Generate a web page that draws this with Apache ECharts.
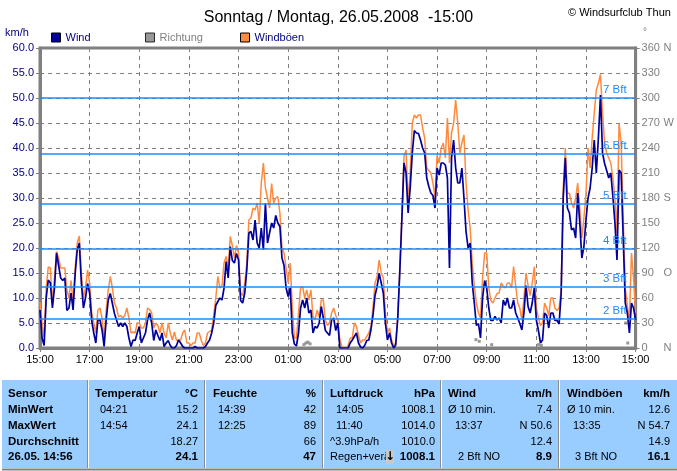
<!DOCTYPE html>
<html><head><meta charset="utf-8">
<script src="https://cdn.jsdelivr.net/npm/echarts@6/dist/echarts.min.js"></script>
<style>html,body{margin:0;padding:0;background:#fff}#c{width:677px;height:471px}</style>
</head><body><div id="c"></div>
<script>
// ---------------- DATA ----------------
const chartTitle = 'Sonntag / Montag, 26.05.2008  -15:00';
const copyright = '\u00a9 Windsurfclub Thun';
const startHour = 15;          // axis starts 15:00
const stepMinutes = 5;         // sample spacing
// wind (km/h), 5-minute samples from 15:00 to 15:00 next day
const wind = [
 7.6,2,0.5,10,13.6,13,8,12,19,16.5,14,13.5,
 14,7.5,8,11,7.6,14.8,19.6,21,13,8,10,12.9,
 11,5.5,3,1,5.6,5.6,3.6,0.3,5.6,9.6,10.9,8.9,
 6.9,5.6,4.3,5,4.3,5,4.3,2,0.3,1.6,1.5,3,
 4.3,1,2,3,5.6,7,5,1.5,3.6,2.5,1.5,3,
 0.3,1,1.5,0.5,0,0,0.5,1.6,1,0.3,0,0,
 0,0,0,0.3,0,0,0,0,0.3,1,1.6,3,
 5,8.5,9.3,10,9.6,12,17.3,14,20.3,17.5,17,18.9,
 17.6,9.5,9,11,15.6,23,23.3,21.6,25.6,21,20,24,
 19.6,29,21,23,25,24,26.5,25,24.3,18,16.5,12,
 10.3,12,3,0.8,0.4,3,8,9.6,8,10,7,7.6,
 3,4.3,4,5,8.3,6,3.5,3,2.5,5.6,6,3.5,
 5,0,0,0,0,0,1,1.6,2.3,3,1,0.2,
 0,0.5,1.5,1.6,3.6,6.5,10.5,12.3,14.9,13,11,5,
 1.6,3,1,0,0.6,6,15.6,26,37,35,27,32,
 38.9,43.5,43,42.9,41.6,40,39,34,32.3,31,30.5,28,
 36,34.6,37,37,36.6,34,16,38,41.6,36,33,33,
 36,30,23.3,20,21,13,9,4.5,4.9,2,10,13.5,
 12,8,5.5,5.5,6.3,5.6,6,5,9.6,8.5,10,8,
 8,9.6,7,6,4.9,3.6,7,12.5,8.3,7,9,12,
 5.6,3.5,1,1.6,7,6.5,4,7,7,5.5,5.5,4.8,
 10.9,30,38,28,27,23.6,24,22,31,25,18,20.3,
 25.6,30,32,36,41.6,35,42,50.6,39,36.9,35.5,34,
 35,30.3,25,17.6,35.6,35,22,9,7,3,9,8,5.6
];
// gusts (km/h), same sampling
const gust = [
 9.2,5,2,12,16.2,16,9,14,19.3,18,16,16,
 16,11.6,10,13.5,9,16,21,22.4,15,10,12,15.6,
 13,7,5,3,7.6,8,6,2,7.6,11.6,14.3,12,
 9,8,6.2,6.5,6,6.5,8,6,3,3.2,3,5,
 5,4,4,5,8,7.7,7,4,5,4.5,3,5,
 3,2,5,3,1.6,3.2,1.5,1.6,1.6,3,3.6,1,
 1,0.5,1,1,3,3,1.5,0.5,1,3,3.3,3.5,
 6.6,10,14.3,12,12.5,17,18.3,16,22.3,20.5,18,20.5,
 19,11,10.5,13,17,25.6,26,28,27.6,29,25,33,
 37,32,30,28,32.9,29,30,30.3,27,20,19,16,
 13,17,8,2,2,7,12,12.3,10,11.6,9.6,11.6,
 6.3,5.6,7.6,6.2,9.6,9.6,5.5,4.5,5,7,8,6.5,
 5.5,1.6,0.3,0,0,0.5,2,2,5,4.3,2.5,1,
 1.6,1.6,2.3,3,4.3,8,13,14.3,17.6,15,14,7,
 3,4,1.6,0.5,1,6.5,16,27,38.3,39.6,29,35,
 44.9,46.6,46,46.6,46.6,44,42,36,35.5,35,33,30,
 38.6,37,40,41,38,46,37,43,45,49.6,45,39,
 41,42.6,33,27.6,24,17,12.5,9,7,6,14,19,
 19,12,9.5,9,10,10.9,11,13,12.3,12,13,13,
 12,16.3,12.5,9,8,5.5,10,15,12.5,10.5,13,16.3,
 8,6,4.5,5,9,8,6.5,10,10,8,7.5,8,
 11.6,32,40,31,30.9,29,28,30,33,28,22,26,
 30.9,40,36,42,47,51.6,53,54.7,47,41,39,38,
 37,34,30,23,44.9,41,26,12,8.5,5.6,19,14,7
];
// direction samples that are visible (minutes after 15:00, degrees)
const dirMinutes = [638, 643, 648, 653, 1054, 1062, 1092, 1205, 1212, 1416, 1421];
const dirDegrees = [4, 6, 7, 5, 10, 8, 4, 4, 3, 30, 6];
// Beaufort thresholds (km/h)
const bftLevels = [5.8, 12.2, 19.8, 28.8, 38.8, 50];
const bftNames  = ['2 Bft', '3 Bft', '4 Bft', '5 Bft', '6 Bft', '7 Bft'];
const compass = {360: 'N', 270: 'W', 180: 'S', 90: 'O', 0: 'N'};
// info table
const sensorLabels = ['Sensor', 'MinWert', 'MaxWert', 'Durchschnitt', '26.05. 14:56'];
const tableHeads = ['Temperatur', 'Feuchte', 'Luftdruck', 'Wind', 'Windb\u00f6en'];
const tableUnits = ['\u00b0C', '%', 'hPa', 'km/h', 'km/h'];
const tableTimes = [
  ['04:21', '14:54', '', ''],
  ['14:39', '12:25', '', ''],
  ['14:05', '11:40', '^3.9hPa/h', 'Regen+ver\u00e4'],
  ['\u00d8 10 min.', '13:37', '', '2 Bft NO'],
  ['\u00d8 10 min.', '13:35', '', '3 Bft NO']
];
const tableValues = [
  ['15.2', '24.1', '18.27', '24.1'],
  ['42', '89', '66', '47'],
  ['1008.1', '1014.0', '1010.0', '1008.1'],
  ['7.4', 'N 50.6', '12.4', '8.9'],
  ['12.6', 'N 54.7', '14.9', '16.1']
];

// ---------------- CHART ----------------
const FONT = 'Liberation Sans, Arial, sans-serif';
const NAVY = '#00009c', ORANGE = '#ff8a3d', GREY = '#808080', BFT = '#1a8cff';
const chart = echarts.init(document.getElementById('c'), null, {renderer: 'canvas'});

const windData = wind.map((v, i) => [i * stepMinutes, v]);
const gustData = gust.map((v, i) => [i * stepMinutes, v]);
const dirData = dirMinutes.map((m, k) => [m, dirDegrees[k]]);

function hhmm(v) {
  const h = (startHour + Math.round(v / 60)) % 24;
  return (h < 10 ? '0' : '') + h + ':00';
}

// graphic: header texts + info panel
const g = [];
g.push({type: 'text', x: 568, y: 13, style: {text: copyright, font: '11px ' + FONT, fill: '#000', verticalAlign: 'middle'}});
g.push({type: 'text', x: 5, y: 33, style: {text: 'km/h', font: '11px ' + FONT, fill: '#000080', verticalAlign: 'middle'}});
g.push({type: 'text', x: 643, y: 32, style: {text: '\u00b0', font: '10px ' + FONT, fill: GREY, verticalAlign: 'middle'}});

const panelTop = 380, panelBottom = 468;
g.push({type: 'rect', shape: {x: 2, y: panelTop, width: 675, height: panelBottom - panelTop}, style: {fill: '#99ccff'}});
g.push({type: 'line', shape: {x1: 2, y1: 469.5, x2: 677, y2: 469.5}, style: {stroke: GREY, lineWidth: 2}});
const sepX = [87, 204, 322, 440, 558];
sepX.forEach(x => {
  g.push({type: 'line', shape: {x1: x + 0.5, y1: panelTop, x2: x + 0.5, y2: panelBottom}, style: {stroke: '#8c8c8c', lineWidth: 1}});
  g.push({type: 'line', shape: {x1: x + 1.5, y1: panelTop, x2: x + 1.5, y2: panelBottom}, style: {stroke: '#ffffff', lineWidth: 1}});
});
const rowY = [394, 410, 426, 442, 457];
const boldF = 'bold 11.5px ' + FONT, normF = '11px ' + FONT;
sensorLabels.forEach((t, r) => g.push({type: 'text', x: 8, y: rowY[r], style: {text: t, font: boldF, fill: '#000', verticalAlign: 'middle'}}));
const headX = [95, 213, 330, 448, 567];
const unitX = [198, 316, 435, 552, 670];
const subX = [[100, 100, 100, 100], [218, 218, 218, 218], [336, 336, 330, 330], [448, 455, 455, 458], [567, 573, 573, 575]];
tableHeads.forEach((h, c) => {
  g.push({type: 'text', x: headX[c], y: rowY[0], style: {text: h, font: boldF, fill: '#000', verticalAlign: 'middle'}});
  g.push({type: 'text', x: unitX[c], y: rowY[0], style: {text: tableUnits[c], font: boldF, fill: '#000', verticalAlign: 'middle', align: 'right'}});
  for (let r = 0; r < 4; r++) {
    if (tableTimes[c][r]) g.push({type: 'text', x: subX[c][r], y: rowY[r + 1], style: {text: tableTimes[c][r], font: normF, fill: '#000', verticalAlign: 'middle'}});
    g.push({type: 'text', x: unitX[c], y: rowY[r + 1], style: {text: tableValues[c][r], font: r === 3 ? boldF : normF, fill: '#000', verticalAlign: 'middle', align: 'right'}});
  }
});
// pressure trend arrow box
g.push({type: 'rect', shape: {x: 386, y: 450, width: 8, height: 14}, style: {fill: '#c8c8c8'}});
g.push({type: 'text', x: 390, y: 457, style: {text: '\u2193', font: 'bold 12px DejaVu Sans, sans-serif', fill: '#000', align: 'center', verticalAlign: 'middle'}});

const legendBase = {icon: 'rect', itemWidth: 9, itemHeight: 9, top: 32, selectedMode: false,
  itemStyle: {borderColor: '#000', borderWidth: 1}, padding: 0};

chart.setOption({
  animation: false,
  backgroundColor: '#fff',
  textStyle: {fontFamily: FONT},
  title: {text: chartTitle, left: 'center', top: 5, textStyle: {fontSize: 16, fontWeight: 'normal', color: '#000', fontFamily: FONT}},
  legend: [
    Object.assign({}, legendBase, {left: 51, data: ['Wind'], textStyle: {color: '#000080', fontSize: 11}}),
    Object.assign({}, legendBase, {left: 145, data: ['Richtung'], textStyle: {color: GREY, fontSize: 11}}),
    Object.assign({}, legendBase, {left: 240, data: ['Windb\u00f6en'], textStyle: {color: '#000080', fontSize: 11}})
  ],
  grid: {left: 40, right: 37, top: 48, bottom: 123, show: true, borderColor: GREY, borderWidth: 3, backgroundColor: 'transparent'},
  xAxis: {
    type: 'value', min: 0, max: 1440, interval: 120,
    axisLine: {lineStyle: {color: GREY, width: 3}},
    axisTick: {show: true, length: 4, lineStyle: {color: GREY}},
    axisLabel: {formatter: hhmm, color: '#000', fontSize: 11, margin: 6},
    splitLine: {show: true, lineStyle: {color: GREY, type: [4, 4], width: 1}}
  },
  yAxis: [
    {type: 'value', min: 0, max: 60, interval: 5,
     axisLine: {show: true, lineStyle: {color: GREY, width: 3}},
     axisTick: {show: true, length: 4, lineStyle: {color: GREY}},
     axisLabel: {formatter: v => v.toFixed(1), color: '#000080', fontSize: 11, margin: 6},
     splitLine: {show: true, lineStyle: {color: GREY, type: [4, 4], width: 1}}},
    {type: 'value', min: 0, max: 360, interval: 30, position: 'right',
     axisLine: {show: true, lineStyle: {color: GREY, width: 3}},
     axisTick: {show: true, length: 4, lineStyle: {color: GREY}},
     axisLabel: {margin: 6, formatter: v => compass[v] ? '{n|' + v + '}{d|' + compass[v] + '}' : '{n|' + v + '}',
       rich: {n: {width: 22, color: GREY, fontSize: 11}, d: {color: GREY, fontSize: 11}}},
     splitLine: {show: false}}
  ],
  graphic: g,
  series: [
    {name: 'bft', type: 'line', data: [], z: 1, silent: true,
     markLine: {silent: true, symbol: ['none', 'none'], animation: false,
       lineStyle: {color: BFT, width: 1.5, type: 'solid'},
       label: {position: 'insideEndTop', color: BFT, fontSize: 11.5, distance: [9, 2], formatter: p => p.name},
       data: bftLevels.map((v, k) => ({yAxis: v, name: bftNames[k]}))}},
    {name: 'Richtung', type: 'scatter', yAxisIndex: 1, data: dirData, symbol: 'rect', symbolSize: 3,
     itemStyle: {color: GREY}, z: 2},
    {name: 'Windb\u00f6en', type: 'line', data: gustData, showSymbol: false,
     lineStyle: {color: ORANGE, width: 1.5}, itemStyle: {color: ORANGE}, z: 3},
    {name: 'Wind', type: 'line', data: windData, showSymbol: false,
     lineStyle: {color: NAVY, width: 1.7}, itemStyle: {color: NAVY}, z: 4}
  ]
});
</script></body></html>
